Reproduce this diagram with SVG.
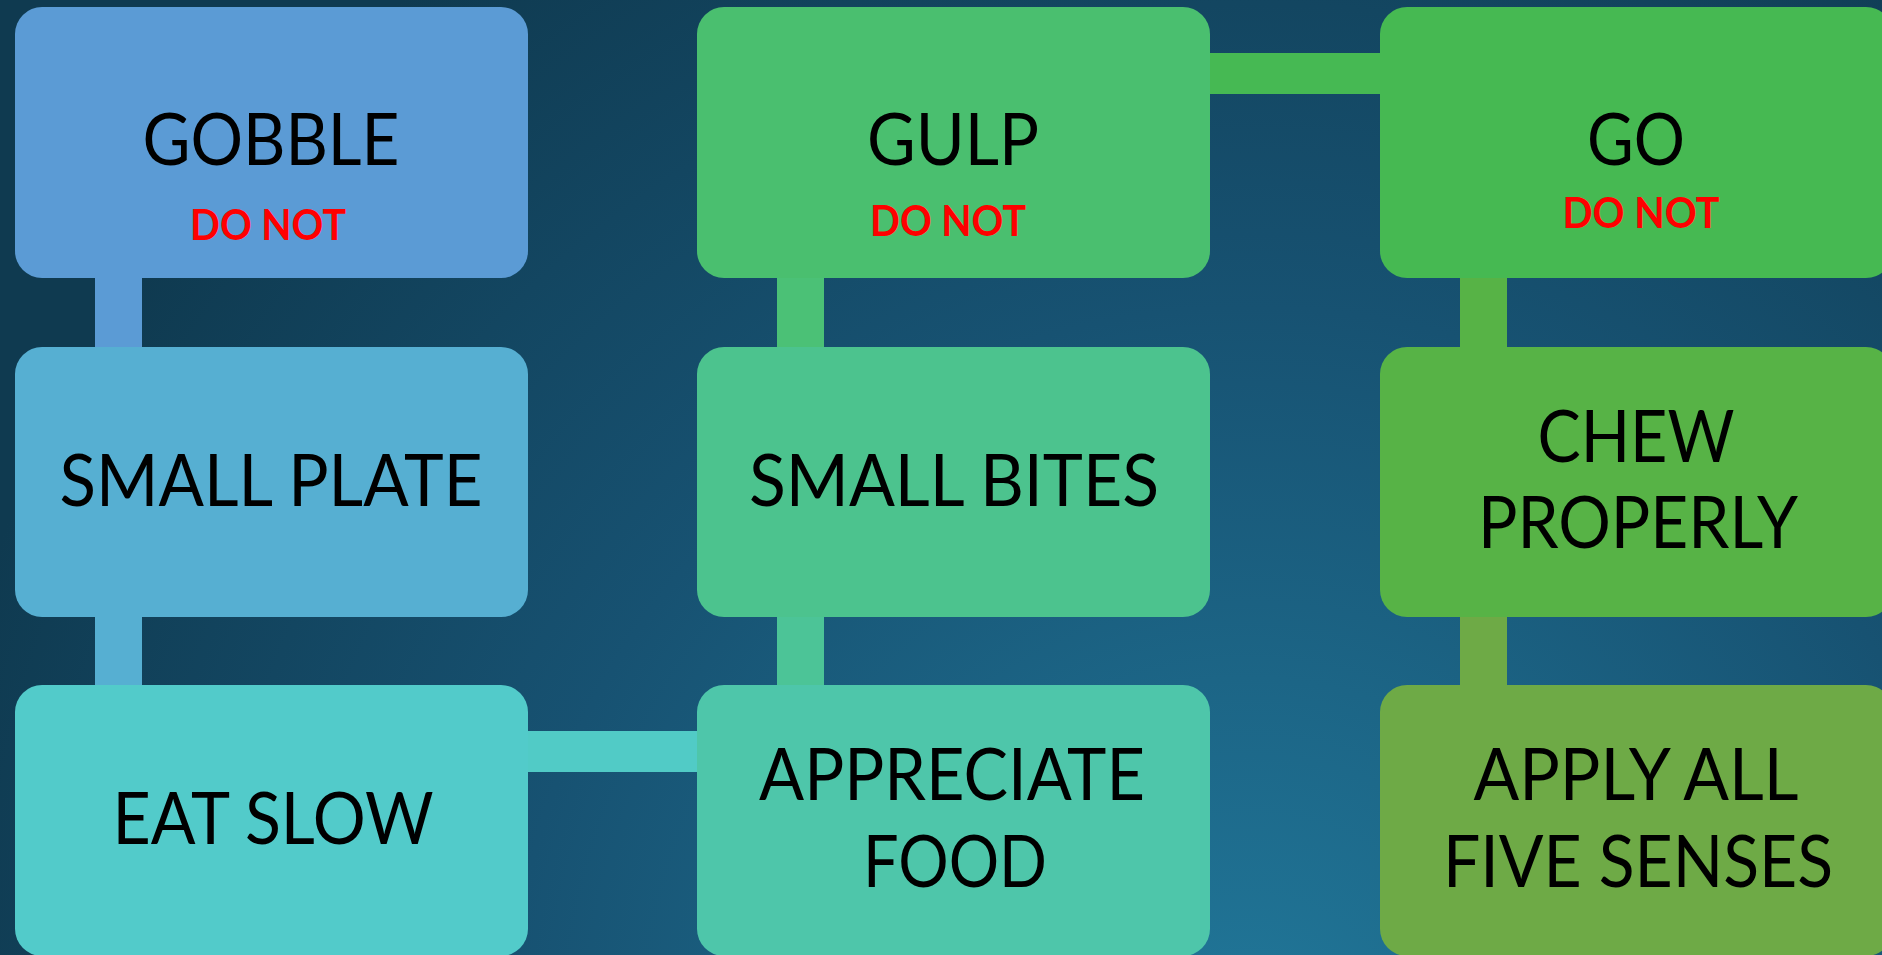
<svg xmlns="http://www.w3.org/2000/svg" width="1882" height="955" viewBox="0 0 1882 955">
<defs>
<radialGradient id="bg" gradientUnits="userSpaceOnUse" cx="1250" cy="1050" r="1350">
<stop offset="0" stop-color="#21789a"/>
<stop offset="0.55" stop-color="#175272"/>
<stop offset="1" stop-color="#0f3a50"/>
</radialGradient>
<style>
.box{stroke:none}
.t{font-family:Lato,"Open Sans","Liberation Sans",sans-serif;font-size:72px;fill:#000;text-anchor:middle}
.dn{font-family:Lato,"Open Sans","Liberation Sans",sans-serif;font-size:42px;font-weight:bold;fill:#ff0000;text-anchor:middle}
</style>
</defs>
<rect x="0" y="0" width="1882" height="955" fill="url(#bg)"/>
<g id="connectors">
<rect x="95" y="270" width="47" height="85" fill="#5b9bd5"/>
<rect x="95" y="610" width="47" height="83" fill="#56afd2"/>
<rect x="777" y="270" width="47" height="85" fill="#4bc176"/>
<rect x="777" y="610" width="47" height="83" fill="#4cc497"/>
<rect x="1460" y="270" width="47" height="85" fill="#57b346"/>
<rect x="1460" y="610" width="47" height="83" fill="#6eaa46"/>
<rect x="1200" y="53" width="190" height="41" fill="#46b953"/>
<rect x="518" y="731" width="189" height="41" fill="#51cbc6"/>
</g>
<g id="gobble">
<rect class="box" x="15" y="7" width="513" height="271" rx="27" fill="#5b9bd5"/>
<text class="t" x="271" y="165" textLength="257" lengthAdjust="spacingAndGlyphs">GOBBLE</text>
<text class="dn" x="268" y="240" textLength="156" lengthAdjust="spacingAndGlyphs">DO NOT</text>
</g>
<g id="small-plate">
<rect class="box" x="15" y="347" width="513" height="270" rx="27" fill="#56afd2"/>
<text class="t" x="271" y="506" textLength="423" lengthAdjust="spacingAndGlyphs">SMALL PLATE</text>
</g>
<g id="eat-slow">
<rect class="box" x="15" y="685" width="513" height="271" rx="27" fill="#52cbca"/>
<text class="t" x="273" y="844" textLength="321" lengthAdjust="spacingAndGlyphs">EAT SLOW</text>
</g>
<g id="gulp">
<rect class="box" x="697" y="7" width="513" height="271" rx="27" fill="#4abf6f"/>
<text class="t" x="953" y="165" textLength="172" lengthAdjust="spacingAndGlyphs">GULP</text>
<text class="dn" x="948" y="236" textLength="156" lengthAdjust="spacingAndGlyphs">DO NOT</text>
</g>
<g id="small-bites">
<rect class="box" x="697" y="347" width="513" height="270" rx="27" fill="#4cc38e"/>
<text class="t" x="954" y="506" textLength="410" lengthAdjust="spacingAndGlyphs">SMALL BITES</text>
</g>
<g id="appreciate-food">
<rect class="box" x="697" y="685" width="513" height="271" rx="27" fill="#4ec6aa"/>
<text class="t" x="952" y="800" textLength="386" lengthAdjust="spacingAndGlyphs">APPRECIATE</text>
<text class="t" x="955" y="887" textLength="184" lengthAdjust="spacingAndGlyphs">FOOD</text>
</g>
<g id="go">
<rect class="box" x="1380" y="7" width="513" height="271" rx="27" fill="#46b952"/>
<text class="t" x="1636" y="165" textLength="98" lengthAdjust="spacingAndGlyphs">GO</text>
<text class="dn" x="1641" y="228" textLength="157" lengthAdjust="spacingAndGlyphs">DO NOT</text>
</g>
<g id="chew-properly">
<rect class="box" x="1380" y="347" width="513" height="270" rx="27" fill="#57b346"/>
<text class="t" x="1636" y="462" textLength="197" lengthAdjust="spacingAndGlyphs">CHEW</text>
<text class="t" x="1638" y="548" textLength="320" lengthAdjust="spacingAndGlyphs">PROPERLY</text>
</g>
<g id="apply-all-five-senses">
<rect class="box" x="1380" y="685" width="513" height="271" rx="27" fill="#6eaa46"/>
<text class="t" x="1636" y="800" textLength="325" lengthAdjust="spacingAndGlyphs">APPLY ALL</text>
<text class="t" x="1638" y="887" textLength="390" lengthAdjust="spacingAndGlyphs">FIVE SENSES</text>
</g>
</svg>
